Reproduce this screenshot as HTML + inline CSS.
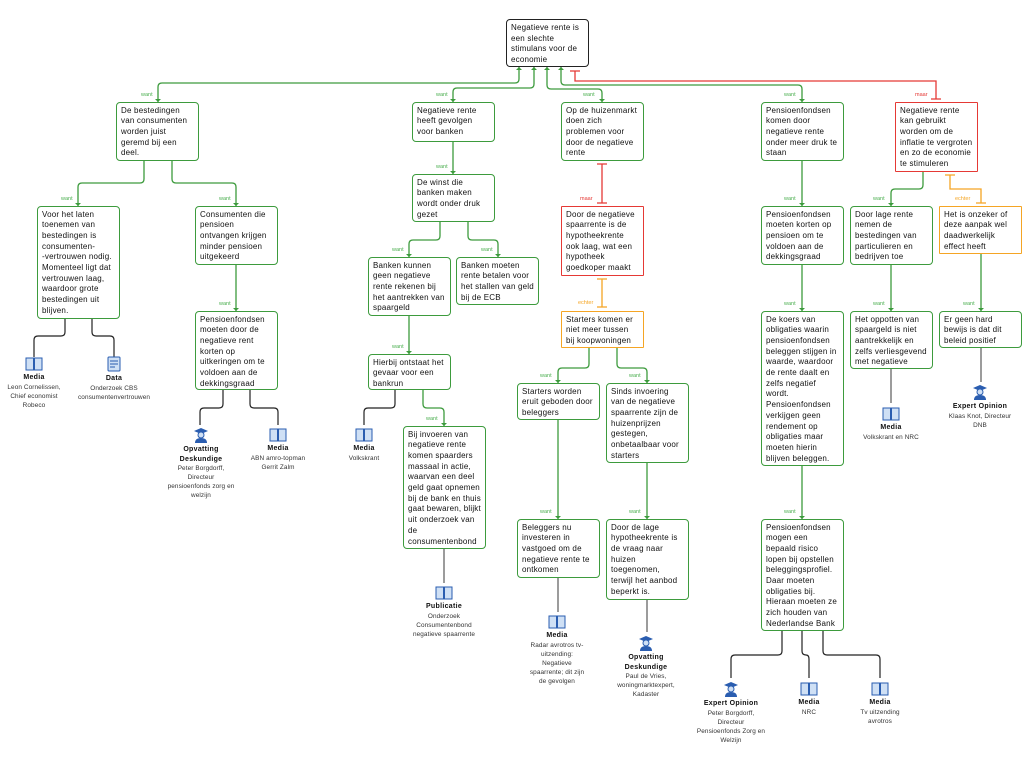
<!DOCTYPE html>
<html><head><meta charset="utf-8"><style>
body{margin:0;width:1024px;height:768px;background:#fff;position:relative;overflow:hidden;font-family:"Liberation Sans",sans-serif}
.n{position:absolute;border:1.4px solid #3d9b3d;border-radius:4px;background:#fff;font-size:8px;letter-spacing:0.2px;line-height:10.7px;padding:2.5px 4px 0 4px;box-sizing:border-box;color:#111;width:83px;overflow:hidden}
.r{border:1.7px solid #e53935;border-radius:1px}
.o{border:1.7px solid #f5a524;border-radius:1px}
.k{border-color:#222}
.w{position:absolute;font-size:5.5px;color:#4caf50}
.m{color:#e53935}.e{color:#f5a524}
.ev{position:absolute;width:62px;text-align:center;font-size:6.4px;letter-spacing:0.1px;line-height:9px;color:#333}
.ev b{display:block;font-size:7px;color:#111;line-height:9.5px;letter-spacing:0.3px}
svg.ic{display:block;margin:0 auto 2px auto}
</style></head><body>
<svg width="1024" height="768" style="position:absolute;left:0;top:0" fill="none">
<g stroke="#3d9b3d" stroke-width="1.3">
<path d="M519 67 V79 Q519 83 515 83 H162 Q158 83 158 87 V102"/>
<path d="M534 67 V84 Q534 88 530 88 H457 Q453 88 453 92 V102"/>
<path d="M547 67 V85 Q547 89 551 89 H598 Q602 89 602 93 V102"/>
<path d="M561 67 V81 Q561 85 565 85 H798 Q802 85 802 89 V102"/>
<path d="M144 161 V179 Q144 183 140 183 H82 Q78 183 78 187 V206"/>
<path d="M172 161 V179 Q172 183 176 183 H232 Q236 183 236 187 V206"/>
<path d="M236 265 V311"/>
<path d="M453 142 V174"/>
<path d="M440 222 V236 Q440 240 436 240 H413 Q409 240 409 244 V257"/>
<path d="M468 222 V236 Q468 240 472 240 H494 Q498 240 498 244 V257"/>
<path d="M409 316 V354"/>
<path d="M423 390 V404 Q423 408 427 408 H440 Q444 408 444 412 V426"/>
<path d="M589 348 V364 Q589 368 585 368 H562 Q558 368 558 372 V383"/>
<path d="M617 348 V364 Q617 368 621 368 H643 Q647 368 647 372 V383"/>
<path d="M558 420 V519"/><path d="M647 463 V519"/>
<path d="M802 161 V206"/><path d="M802 265 V311"/><path d="M802 466 V519"/>
<path d="M923 172 V185 Q923 189 919 189 H895 Q891 189 891 193 V206"/>
<path d="M891 265 V311"/><path d="M981 254 V311"/>
</g>
<g fill="#3d9b3d">
<path d="M155 99 h6 l-3 3z"/><path d="M450 99 h6 l-3 3z"/><path d="M599 99 h6 l-3 3z"/><path d="M799 99 h6 l-3 3z"/>
<path d="M75 203 h6 l-3 3z"/><path d="M233 203 h6 l-3 3z"/><path d="M233 308 h6 l-3 3z"/><path d="M450 171 h6 l-3 3z"/>
<path d="M406 254 h6 l-3 3z"/><path d="M495 254 h6 l-3 3z"/><path d="M406 351 h6 l-3 3z"/><path d="M441 423 h6 l-3 3z"/>
<path d="M555 380 h6 l-3 3z"/><path d="M644 380 h6 l-3 3z"/><path d="M555 516 h6 l-3 3z"/><path d="M644 516 h6 l-3 3z"/>
<path d="M799 203 h6 l-3 3z"/><path d="M799 308 h6 l-3 3z"/><path d="M799 516 h6 l-3 3z"/>
<path d="M888 203 h6 l-3 3z"/><path d="M888 308 h6 l-3 3z"/><path d="M978 308 h6 l-3 3z"/>
<path d="M516 70 h6 l-3 -3z"/><path d="M531 70 h6 l-3 -3z"/><path d="M544 70 h6 l-3 -3z"/><path d="M558 70 h6 l-3 -3z"/>
</g>
<g stroke="#e53935" stroke-width="1.3">
<path d="M575 71 V81 H936 V99"/><path d="M570 71 h10 M931 99 h10"/>
<path d="M602 164 V203 M597 164 h10 M597 203 h10"/>
</g>
<g stroke="#f5a524" stroke-width="1.3">
<path d="M602 279 V307 M597 279 h10 M597 307 h10"/>
<path d="M950 175 V189 H981 V203 M945 175 h10 M976 203 h10"/>
</g>
<g stroke="#222" stroke-width="1.2">
<path d="M65 319 V332 Q65 336 61 336 H38 Q34 336 34 340 V357"/>
<path d="M92 319 V332 Q92 336 96 336 H110 Q114 336 114 340 V357"/>
<path d="M223 390 V404 Q223 408 219 408 H204 Q200 408 200 412 V425"/>
<path d="M250 390 V404 Q250 408 254 408 H274 Q278 408 278 412 V425"/>
<path d="M395 390 V404 Q395 408 391 408 H368 Q364 408 364 412 V425"/>
<path d="M782 631 V651 Q782 655 778 655 H735 Q731 655 731 659 V678"/>
<path d="M802 631 V651 Q802 655 806 655 Q809 655 809 659 V678"/>
<path d="M823 631 V651 Q823 655 827 655 H876 Q880 655 880 659 V678"/>
</g>
<g stroke="#666" stroke-width="1.3">
<path d="M444 549 V583"/><path d="M558 578 V612"/><path d="M647 600 V632"/><path d="M891 369 V403"/><path d="M981 348 V382"/>
</g>
</svg>

<div class="w" style="left:141px;top:92px">want</div>
<div class="w" style="left:436px;top:92px">want</div>
<div class="w" style="left:583px;top:92px">want</div>
<div class="w" style="left:784px;top:92px">want</div>
<div class="w m" style="left:915px;top:92px">maar</div>
<div class="w" style="left:61px;top:196px">want</div>
<div class="w" style="left:219px;top:196px">want</div>
<div class="w" style="left:219px;top:301px">want</div>
<div class="w" style="left:436px;top:164px">want</div>
<div class="w" style="left:392px;top:247px">want</div>
<div class="w" style="left:481px;top:247px">want</div>
<div class="w" style="left:392px;top:344px">want</div>
<div class="w" style="left:426px;top:416px">want</div>
<div class="w m" style="left:580px;top:196px">maar</div>
<div class="w e" style="left:578px;top:300px">echter</div>
<div class="w" style="left:540px;top:373px">want</div>
<div class="w" style="left:629px;top:373px">want</div>
<div class="w" style="left:540px;top:509px">want</div>
<div class="w" style="left:629px;top:509px">want</div>
<div class="w" style="left:784px;top:196px">want</div>
<div class="w" style="left:784px;top:301px">want</div>
<div class="w" style="left:784px;top:509px">want</div>
<div class="w" style="left:873px;top:196px">want</div>
<div class="w e" style="left:955px;top:196px">echter</div>
<div class="w" style="left:873px;top:301px">want</div>
<div class="w" style="left:963px;top:301px">want</div>

<div class="n k" style="left:506px;top:19px;height:48px;padding-top:3px">Negatieve rente is een slechte stimulans voor de economie</div>
<div class="n" style="left:116px;top:102px;height:59px">De bestedingen van consumenten worden juist geremd bij een deel.</div>
<div class="n" style="left:412px;top:102px;height:40px">Negatieve rente heeft gevolgen voor banken</div>
<div class="n" style="left:561px;top:102px;height:59px">Op de huizenmarkt doen zich problemen voor door de negatieve rente</div>
<div class="n" style="left:761px;top:102px;height:59px">Pensioenfondsen komen door negatieve rente onder meer druk te staan</div>
<div class="n r" style="left:895px;top:102px;height:70px">Negatieve rente kan gebruikt worden om de inflatie te vergroten en zo de economie te stimuleren</div>
<div class="n" style="left:37px;top:206px;height:113px">Voor het laten toenemen van bestedingen is consumenten-<br>-vertrouwen nodig. Momenteel ligt dat vertrouwen laag, waardoor grote bestedingen uit blijven.</div>
<div class="n" style="left:195px;top:206px;height:59px">Consumenten die pensioen ontvangen krijgen minder pensioen uitgekeerd</div>
<div class="n" style="left:412px;top:174px;height:48px">De winst die banken maken wordt onder druk gezet</div>
<div class="n r" style="left:561px;top:206px;height:70px">Door de negatieve spaarrente is de hypotheekrente ook laag, wat een hypotheek goedkoper maakt</div>
<div class="n" style="left:761px;top:206px;height:59px">Pensioenfondsen moeten korten op pensioen om te voldoen aan de dekkingsgraad</div>
<div class="n" style="left:850px;top:206px;height:59px">Door lage rente nemen de bestedingen van particulieren en bedrijven toe</div>
<div class="n o" style="left:939px;top:206px;height:48px">Het is onzeker of deze aanpak wel daadwerkelijk effect heeft</div>
<div class="n" style="left:195px;top:311px;height:79px">Pensioenfondsen moeten door de negatieve rent korten op uitkeringen om te voldoen aan de dekkingsgraad</div>
<div class="n" style="left:368px;top:257px;height:59px">Banken kunnen geen negatieve rente rekenen bij het aantrekken van spaargeld</div>
<div class="n" style="left:456px;top:257px;height:48px">Banken moeten rente betalen voor het stallen van geld bij de ECB</div>
<div class="n o" style="left:561px;top:311px;height:37px">Starters komen er niet meer tussen bij koopwoningen</div>
<div class="n" style="left:761px;top:311px;height:155px">De koers van obligaties waarin pensioenfondsen beleggen stijgen in waarde, waardoor de rente daalt en zelfs negatief wordt. Pensioenfondsen verkijgen geen rendement op obligaties maar moeten hierin blijven beleggen.</div>
<div class="n" style="left:850px;top:311px;height:58px">Het oppotten van spaargeld is niet aantrekkelijk en zelfs verliesgevend met negatieve rente</div>
<div class="n" style="left:939px;top:311px;height:37px">Er geen hard bewijs is dat dit beleid positief effect heeft.</div>
<div class="n" style="left:368px;top:354px;height:36px">Hierbij ontstaat het gevaar voor een bankrun</div>
<div class="n" style="left:517px;top:383px;height:37px">Starters worden eruit geboden door beleggers</div>
<div class="n" style="left:606px;top:383px;height:80px">Sinds invoering van de negatieve spaarrente zijn de huizenprijzen gestegen, onbetaalbaar voor starters</div>
<div class="n" style="left:403px;top:426px;height:123px">Bij invoeren van negatieve rente komen spaarders massaal in actie, waarvan een deel geld gaat opnemen bij de bank en thuis gaat bewaren, blijkt uit onderzoek van de consumentenbond</div>
<div class="n" style="left:517px;top:519px;height:59px">Beleggers nu investeren in vastgoed om de negatieve rente te ontkomen</div>
<div class="n" style="left:606px;top:519px;height:81px">Door de lage hypotheekrente is de vraag naar huizen toegenomen, terwijl het aanbod beperkt is.</div>
<div class="n" style="left:761px;top:519px;height:112px">Pensioenfondsen mogen een bepaald risico lopen bij opstellen beleggingsprofiel. Daar moeten obligaties bij. Hieraan moeten ze zich houden van Nederlandse Bank</div>

<!-- evidence -->
<div class="ev" style="left:3px;top:357px"><svg class="ic" width="18" height="14"><rect x="1" y="1" width="7.5" height="12" fill="#cfe0f5" stroke="#2a5db0"/><rect x="9.5" y="1" width="7.5" height="12" fill="#cfe0f5" stroke="#2a5db0"/></svg><b>Media</b>Leon Cornelissen, Chief economist Robeco</div>
<div class="ev" style="left:78px;top:356px;width:72px"><svg class="ic" width="14" height="16"><rect x="1" y="1" width="12" height="14" rx="1" fill="#cfe0f5" stroke="#2a5db0"/><path d="M3 5h8M3 8h8M3 11h5" stroke="#2a5db0"/></svg><b>Data</b>Onderzoek CBS consumentenvertrouwen</div>
<div class="ev" style="left:166px;top:427px;width:70px"><svg class="ic" width="18" height="16"><path d="M2 4 L9 1 L16 4 L9 7z" fill="#2a5db0"/><circle cx="9" cy="8" r="3" fill="#cfe0f5" stroke="#2a5db0"/><path d="M3 16 Q3 11 9 11 Q15 11 15 16z" fill="#2a5db0"/></svg><b>Opvatting<br>Deskundige</b>Peter Borgdorff, Directeur pensioenfonds zorg en welzijn</div>
<div class="ev" style="left:247px;top:428px"><svg class="ic" width="18" height="14"><rect x="1" y="1" width="7.5" height="12" fill="#cfe0f5" stroke="#2a5db0"/><rect x="9.5" y="1" width="7.5" height="12" fill="#cfe0f5" stroke="#2a5db0"/></svg><b>Media</b>ABN amro-topman Gerrit Zalm</div>
<div class="ev" style="left:333px;top:428px"><svg class="ic" width="18" height="14"><rect x="1" y="1" width="7.5" height="12" fill="#cfe0f5" stroke="#2a5db0"/><rect x="9.5" y="1" width="7.5" height="12" fill="#cfe0f5" stroke="#2a5db0"/></svg><b>Media</b>Volkskrant</div>
<div class="ev" style="left:410px;top:586px;width:68px"><svg class="ic" width="18" height="14"><rect x="1" y="1" width="7.5" height="12" fill="#cfe0f5" stroke="#2a5db0"/><rect x="9.5" y="1" width="7.5" height="12" fill="#cfe0f5" stroke="#2a5db0"/></svg><b>Publicatie</b>Onderzoek Consumentenbond negatieve spaarrente</div>
<div class="ev" style="left:528px;top:615px;width:58px"><svg class="ic" width="18" height="14"><rect x="1" y="1" width="7.5" height="12" fill="#cfe0f5" stroke="#2a5db0"/><rect x="9.5" y="1" width="7.5" height="12" fill="#cfe0f5" stroke="#2a5db0"/></svg><b>Media</b>Radar avrotros tv-uitzending: Negatieve spaarrente; dit zijn de gevolgen</div>
<div class="ev" style="left:612px;top:635px;width:68px"><svg class="ic" width="18" height="16"><path d="M2 4 L9 1 L16 4 L9 7z" fill="#2a5db0"/><circle cx="9" cy="8" r="3" fill="#cfe0f5" stroke="#2a5db0"/><path d="M3 16 Q3 11 9 11 Q15 11 15 16z" fill="#2a5db0"/></svg><b>Opvatting<br>Deskundige</b>Paul de Vries, woningmarktexpert, Kadaster</div>
<div class="ev" style="left:856px;top:407px;width:70px"><svg class="ic" width="18" height="14"><rect x="1" y="1" width="7.5" height="12" fill="#cfe0f5" stroke="#2a5db0"/><rect x="9.5" y="1" width="7.5" height="12" fill="#cfe0f5" stroke="#2a5db0"/></svg><b>Media</b>Volkskrant en NRC</div>
<div class="ev" style="left:945px;top:384px;width:70px"><svg class="ic" width="18" height="16"><path d="M2 4 L9 1 L16 4 L9 7z" fill="#2a5db0"/><circle cx="9" cy="8" r="3" fill="#cfe0f5" stroke="#2a5db0"/><path d="M3 16 Q3 11 9 11 Q15 11 15 16z" fill="#2a5db0"/></svg><b>Expert Opinion</b>Klaas Knot, Directeur DNB</div>
<div class="ev" style="left:696px;top:681px;width:70px"><svg class="ic" width="18" height="16"><path d="M2 4 L9 1 L16 4 L9 7z" fill="#2a5db0"/><circle cx="9" cy="8" r="3" fill="#cfe0f5" stroke="#2a5db0"/><path d="M3 16 Q3 11 9 11 Q15 11 15 16z" fill="#2a5db0"/></svg><b>Expert Opinion</b>Peter Borgdorff, Directeur Pensioenfonds Zorg en Welzijn</div>
<div class="ev" style="left:778px;top:682px"><svg class="ic" width="18" height="14"><rect x="1" y="1" width="7.5" height="12" fill="#cfe0f5" stroke="#2a5db0"/><rect x="9.5" y="1" width="7.5" height="12" fill="#cfe0f5" stroke="#2a5db0"/></svg><b>Media</b>NRC</div>
<div class="ev" style="left:849px;top:682px"><svg class="ic" width="18" height="14"><rect x="1" y="1" width="7.5" height="12" fill="#cfe0f5" stroke="#2a5db0"/><rect x="9.5" y="1" width="7.5" height="12" fill="#cfe0f5" stroke="#2a5db0"/></svg><b>Media</b>Tv uitzending avrotros</div>
</body></html>
